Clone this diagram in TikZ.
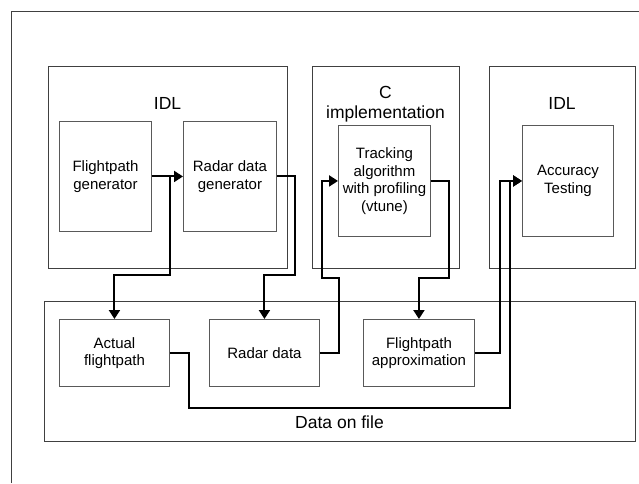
\documentclass[tikz,border=0pt]{standalone}
\usepackage{fontspec}
\setmainfont{Liberation Sans}
\usetikzlibrary{arrows.meta}
\begin{document}
\begin{tikzpicture}[x=1pt,y=-1pt,
  frame/.style={draw=black!75,line width=0.9pt},
  item/.style={draw=black!65,line width=0.9pt,anchor=north west,inner sep=0pt,align=center,
    font=\fontsize{15}{17.5}\selectfont},
  grouplabel/.style={align=center,inner sep=0pt,font=\fontsize{17.5}{20}\selectfont},
  conn/.style={line width=2pt,draw=black},
  arr/.style={conn,-{Triangle[length=9pt,width=11pt]}}]
\useasboundingbox (0,0) rectangle (639,483);
% outer frame (only top and left visible)
\draw[frame] (11,483) -- (11,11) -- (639,11);
% group containers
\node[frame,anchor=north west,minimum width=239pt,minimum height=202pt,inner sep=0pt] (g1) at (48,66) {};
\node[frame,anchor=north west,minimum width=147pt,minimum height=202pt,inner sep=0pt] (g2) at (312,66) {};
\node[frame,anchor=north west,minimum width=146pt,minimum height=202pt,inner sep=0pt] (g3) at (489,66) {};
\node[frame,anchor=north west,minimum width=591pt,minimum height=140pt,inner sep=0pt] (g4) at (44,301) {};
\node[grouplabel] (l1) at (167.5,103) {IDL};
\node[grouplabel] (l2) at (385.5,104) {C\\implementation};
\node[grouplabel] (l3) at (562,103) {IDL};
\node[grouplabel] (l4) at (339.5,422) {Data on file};
% items
\node[item,minimum width=92pt,minimum height=110pt] (fg) at (59,121) {Flightpath\\generator};
\node[item,minimum width=93pt,minimum height=110pt] (rg) at (183,121) {Radar data\\generator};
\node[item,minimum width=92pt,minimum height=111pt] (tk) at (338,125) {Tracking\\algorithm\\with profiling\\(vtune)};
\node[item,minimum width=91pt,minimum height=111pt] (ac) at (522,125) {Accuracy\\Testing};
\node[item,minimum width=110pt,minimum height=67pt] (af) at (59,319) {Actual\\flightpath};
\node[item,minimum width=110pt,minimum height=67pt] (rd) at (209,319) {Radar data};
\node[item,minimum width=111pt,minimum height=67pt] (fa) at (363,319) {Flightpath\\approximation};
% connectors
\draw[arr] (fg.east) -- (rg.west);
\draw[arr] (fg.east) -- ++(18,0) -- ++(0,99) -| (af.north);
\draw[arr] (rg.east) -- ++(18,0) -- ++(0,99) -| (rd.north);
\draw[arr] (rd.east) -- ++(19,0) -- ++(0,-74.5) -- ++(-17,0) |- (tk.west);
\draw[arr] (tk.east) -- ++(18,0) -- ++(0,97.5) -| (fa.north);
\draw[arr] (fa.east) -- ++(25,0) |- (ac.west);
\draw[arr] (af.east) -- ++(19,0) -- ++(0,55.5) -- ++(321,0) |- (ac.west);
\end{tikzpicture}
\end{document}
